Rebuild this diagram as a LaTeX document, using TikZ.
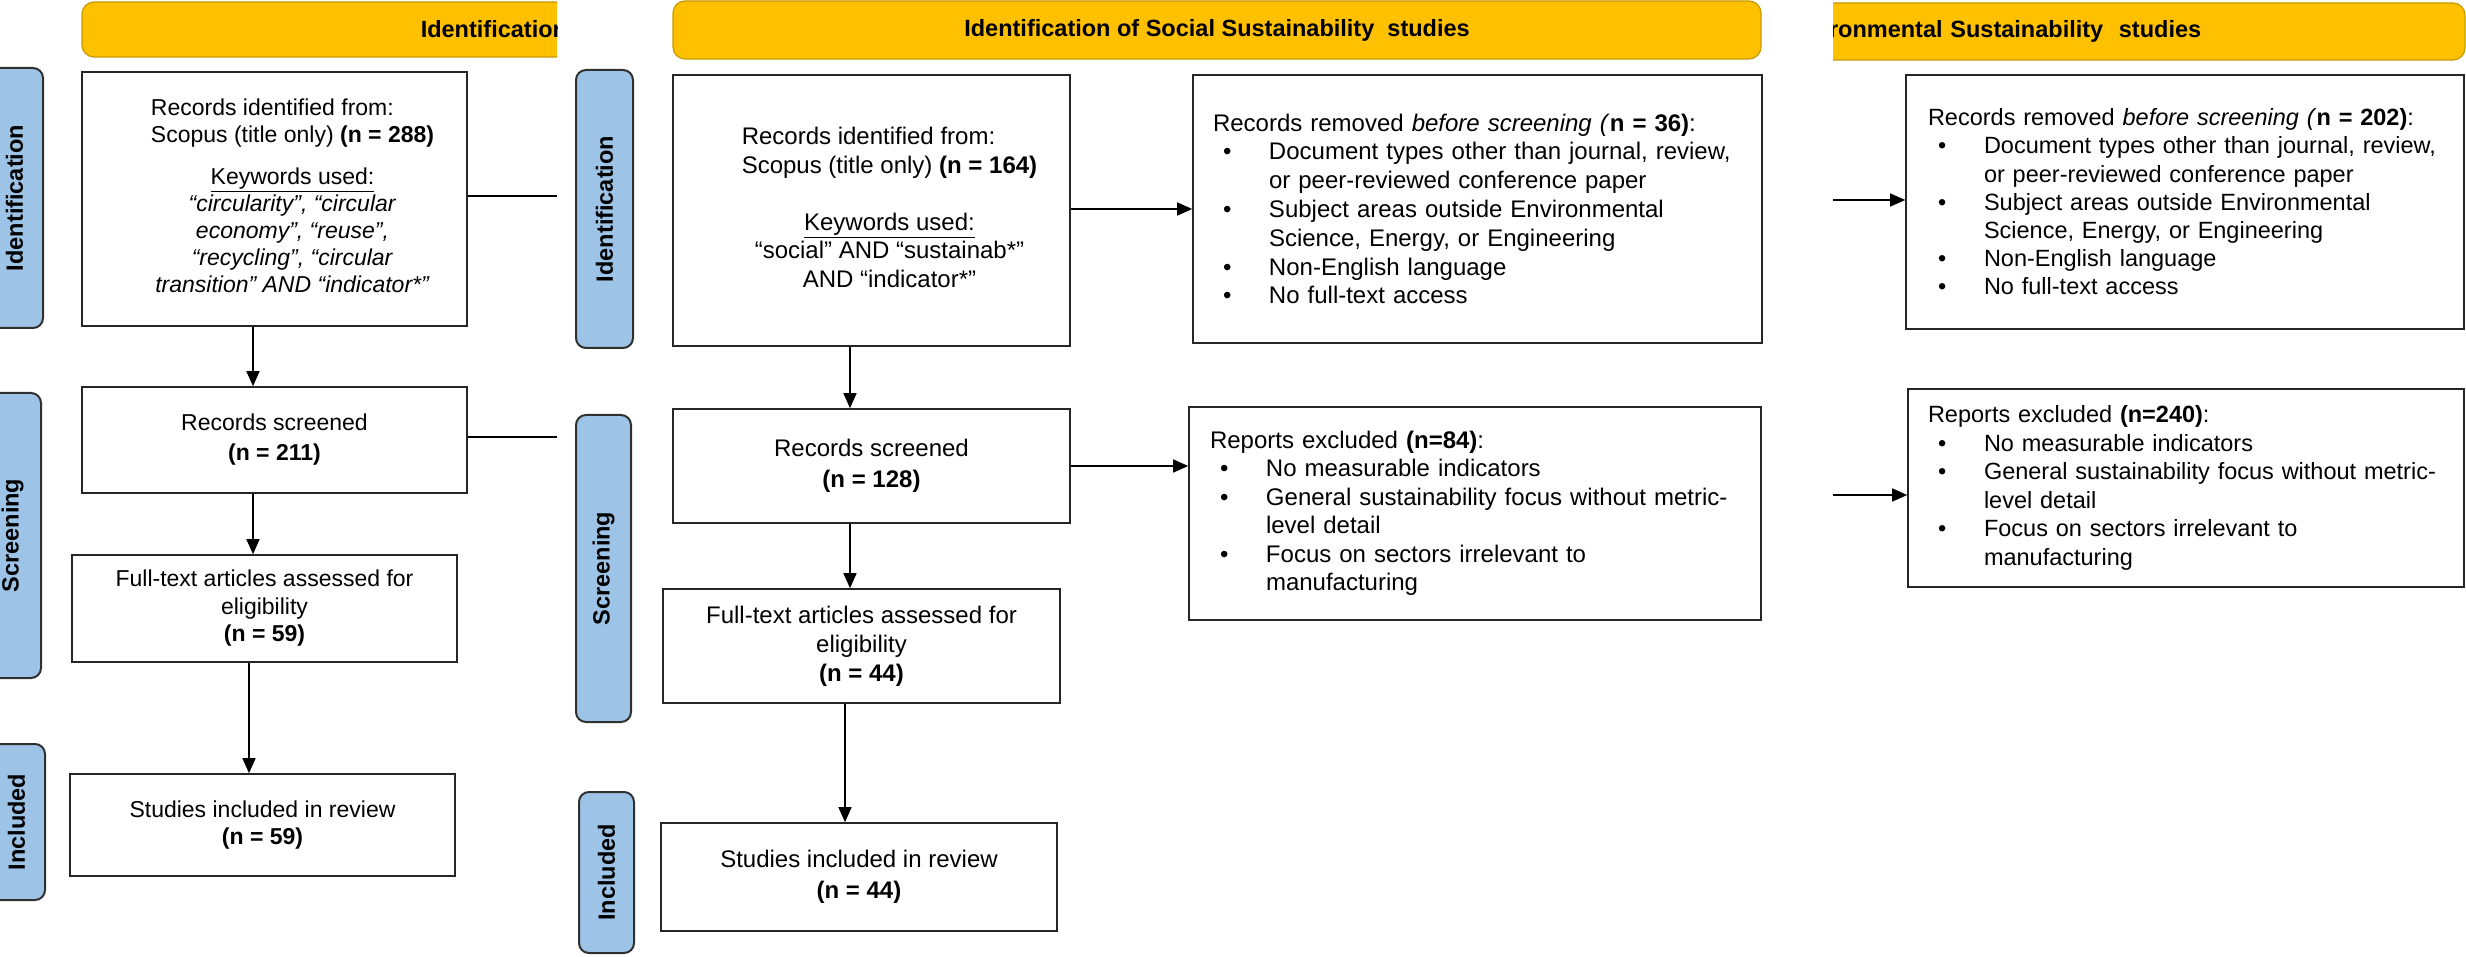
\documentclass[tikz,border=0pt]{standalone}
\usepackage{fontspec}
\setmainfont{Liberation Sans}
\usetikzlibrary{arrows.meta}
\definecolor{bannerfill}{HTML}{FFC000}
\definecolor{bannerline}{HTML}{C59A00}
\definecolor{tabfill}{HTML}{9DC3E6}
\definecolor{tabline}{HTML}{303030}
\newcommand{\bul}{\makebox[56pt][l]{\hspace{10pt}\textbullet}}
\newcommand{\cont}{\hspace*{56pt}}

\begin{document}
\begin{tikzpicture}[x=1pt,y=-1pt,>={Triangle[length=15pt,width=13pt]}]
        \tikzstyle{banner}=[draw=bannerline,line width=1.2pt,fill=bannerfill,rounded corners=12pt,inner sep=0pt,font=\bfseries\fontsize{23.5}{28}\selectfont]
        \tikzstyle{phase}=[draw=tabline,line width=2pt,fill=tabfill,rounded corners=10pt,rotate=90,inner sep=0pt,font=\bfseries\fontsize{23.5}{26}\selectfont]
        \tikzstyle{stage}=[draw=black!85,line width=1.6pt,fill=white,inner sep=0pt,align=center]
        \tikzstyle{query}=[draw=black!85,line width=1.6pt,fill=white,inner sep=0pt]
        \tikzstyle{excl}=[draw=black!85,line width=1.6pt,fill=white,align=left,inner ysep=0pt]
        \tikzstyle{edge}=[draw,line width=1.5pt,->]
       \useasboundingbox (0,0) rectangle (2466,957);
       \fill[white] (0,0) rectangle (2466,957);
       \begin{scope}
         \clip (0,0) rectangle (557,957);
         \node [banner,minimum width=518pt,minimum height=55pt,text width=452pt,align=right] (ban1) at (341,29.5) {Identification};
         \node [phase,minimum width=260pt,minimum height=57pt] (idA) at (14.5,198) {Identification};
         \node [phase,minimum width=285pt,minimum height=57pt] (scA) at (12.5,535.5) {Screening};
         \node [phase,minimum width=156pt,minimum height=57pt] (inA) at (16.5,822) {Included};
         \node [query,minimum width=385pt,minimum height=254pt,font=\fontsize{23}{27}\selectfont] (A1) at (274.5,199) {\hspace{36pt}\begin{tabular}{@{}l@{}}Records identified from:\\Scopus (title only) \textbf{(n = 288)}\\[15pt]
           \multicolumn{1}{@{}c@{}}{\underline{Keywords used:}}\\
           \multicolumn{1}{@{}c@{}}{\textit{“circularity”, “circular}}\\
           \multicolumn{1}{@{}c@{}}{\textit{economy”, “reuse”,}}\\
           \multicolumn{1}{@{}c@{}}{\textit{“recycling”, “circular}}\\
           \multicolumn{1}{@{}c@{}}{\textit{transition” AND “indicator*”}}\end{tabular}};
         \node [stage,minimum width=385pt,minimum height=106pt,font=\fontsize{23}{30}\selectfont] (A2) at (274.5,440) {Records screened\\\textbf{(n = 211)}};
         \node [stage,minimum width=385pt,minimum height=107pt,font=\fontsize{23}{27.5}\selectfont] (A3) at (264.5,608.5) {Full-text articles assessed for\\eligibility\\\textbf{(n = 59)}};
         \node [stage,minimum width=385pt,minimum height=102pt,font=\fontsize{23}{27.5}\selectfont] (A4) at (262.5,825) {Studies included in review\\\textbf{(n = 59)}};
         \coordinate (a1end) at (557,196);
         \coordinate (a2end) at (557,437);
         \path[edge,-] (A1.east |- a1end) -- (a1end);
         \path[edge,-] (A2.east |- a2end) -- (a2end);
         \path[edge] ([xshift=-21.5pt]A1.south) -- ([xshift=-21.5pt]A1.south |- A2.north);
         \path[edge] ([xshift=-21.5pt]A2.south) -- ([xshift=-21.5pt]A2.south |- A3.north);
         \path[edge] ([xshift=-15.5pt]A3.south) -- ([xshift=-15.5pt]A3.south |- A4.north);
       \end{scope}
       \begin{scope}
         \node [banner,minimum width=1088pt,minimum height=58pt] (ban2) at (1217,30) {Identification of Social Sustainability~ studies};
         \node [phase,minimum width=278pt,minimum height=57pt] (idB) at (604.5,209) {Identification};
         \node [phase,minimum width=307pt,minimum height=55pt] (scB) at (603.5,568.5) {Screening};
         \node [phase,minimum width=161pt,minimum height=55pt] (inB) at (606.5,872.5) {Included};
         \node [query,minimum width=397pt,minimum height=271pt,font=\fontsize{24}{28.5}\selectfont] (B1) at (871.5,210.5) {\hspace{36pt}\begin{tabular}{@{}l@{}}Records identified from:\\Scopus (title only) \textbf{(n = 164)}\\[28.5pt]
           \multicolumn{1}{@{}c@{}}{\underline{Keywords used:}}\\
           \multicolumn{1}{@{}c@{}}{“social” AND “sustainab*”}\\
           \multicolumn{1}{@{}c@{}}{AND “indicator*”}\end{tabular}};
         \node [stage,minimum width=397pt,minimum height=114pt,font=\fontsize{24}{31}\selectfont] (B2) at (871.5,466) {Records screened\\\textbf{(n = 128)}};
         \node [stage,minimum width=397pt,minimum height=114pt,font=\fontsize{24}{29}\selectfont] (B3) at (861.5,646) {Full-text articles assessed for\\eligibility\\\textbf{(n = 44)}};
         \node [stage,minimum width=396pt,minimum height=108pt,font=\fontsize{24}{31}\selectfont] (B4) at (859,877) {Studies included in review\\\textbf{(n = 44)}};
         \node [excl,inner xsep=20pt,text width=529pt,minimum height=268pt,font=\fontsize{24}{28.8}\selectfont] (Brm) at (1477.5,209) {Records removed \textit{before screening (}\textbf{n = 36)}:\\
           \bul Document types other than journal, review,\\
           \cont or peer-reviewed conference paper\\
           \bul Subject areas outside Environmental\\
           \cont Science, Energy, or Engineering\\
           \bul Non-English language\\
           \bul No full-text access};
         \node [excl,inner xsep=21pt,text width=530pt,minimum height=213pt,font=\fontsize{24}{28.5}\selectfont] (Bex) at (1475,513.5) {Reports excluded \textbf{(n=84)}:\\
           \bul No measurable indicators\\
           \bul General sustainability focus without metric-\\
           \cont level detail\\
           \bul Focus on sectors irrelevant to\\
           \cont manufacturing};
         \path[edge] ([xshift=-21.5pt]B1.south) -- ([xshift=-21.5pt]B1.south |- B2.north);
         \path[edge] ([xshift=-21.5pt]B2.south) -- ([xshift=-21.5pt]B2.south |- B3.north);
         \path[edge] ([xshift=-16.5pt]B3.south) -- ([xshift=-16.5pt]B3.south |- B4.north);
         \path[edge] (B1.east |- Brm.west) -- (Brm.west);
         \path[edge] (B2.east) -- (B2.east -| Bex.west);
       \end{scope}
       \begin{scope}
         \clip (1833,0) rectangle (2466,957);
         \node [banner,minimum width=665pt,minimum height=57pt,text width=607pt,align=left] (ban3) at (2132.5,31.5) {ronmental Sustainability~ studies};
         \node [excl,inner xsep=22pt,text width=514pt,minimum height=254pt,font=\fontsize{23.5}{28.2}\selectfont] (Crm) at (2185,202) {Records removed \textit{before screening (}\textbf{n = 202)}:\\
           \bul Document types other than journal, review,\\
           \cont or peer-reviewed conference paper\\
           \bul Subject areas outside Environmental\\
           \cont Science, Energy, or Engineering\\
           \bul Non-English language\\
           \bul No full-text access};
         \node [excl,inner xsep=20pt,text width=516pt,minimum height=198pt,font=\fontsize{23.5}{28.5}\selectfont] (Cex) at (2186,488) {Reports excluded \textbf{(n=240)}:\\
           \bul No measurable indicators\\
           \bul General sustainability focus without metric-\\
           \cont level detail\\
           \bul Focus on sectors irrelevant to\\
           \cont manufacturing};
         \coordinate (c1) at (1833,200);
         \coordinate (c2) at (1833,495);
         \path[edge] (c1) -- (c1 -| Crm.west);
         \path[edge] (c2) -- (c2 -| Cex.west);
       \end{scope}
      \end{tikzpicture}
\end{document}
